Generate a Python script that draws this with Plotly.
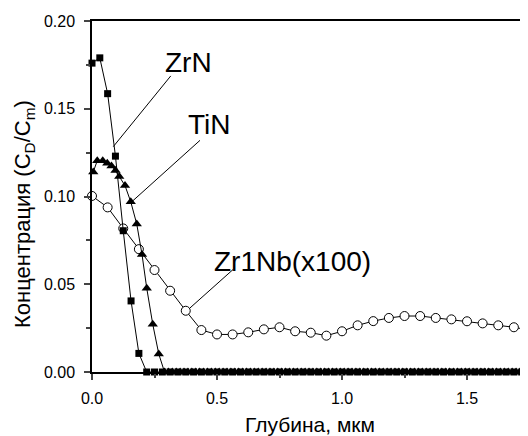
import numpy as np
import plotly.graph_objects as go

# ---- data ----
zrn_x = [0.0, 0.03125, 0.0625, 0.09375, 0.125, 0.15625, 0.1875] + [0.21875 + k / 32 for k in range(52)]
zrn_y = [0.176, 0.179, 0.1586, 0.123, 0.0805, 0.0405, 0.0106] + [0.0] * 52

tin_x = [0.005, 0.021, 0.043, 0.061, 0.078, 0.094, 0.109, 0.132, 0.155, 0.179, 0.200, 0.219, 0.243, 0.267] + [0.29 + k / 64 for k in range(96)]
tin_y = [0.114, 0.1204, 0.1204, 0.119, 0.1174, 0.1148, 0.1114, 0.1062, 0.097, 0.0843, 0.067, 0.0477, 0.0272, 0.0103] + [0.0] * 96

zrnb_x = [i * 0.0625 for i in range(29)]
zrnb_y = [0.1003, 0.0938, 0.0818, 0.0700, 0.0581, 0.0463, 0.0349, 0.0239, 0.0214, 0.0214,
          0.0226, 0.0243, 0.0255, 0.0232, 0.0224, 0.0207, 0.0232, 0.0266, 0.0290, 0.0308,
          0.0319, 0.0319, 0.0308, 0.0300, 0.0289, 0.0277, 0.0266, 0.0255, 0.0239]

x_ticks = [0.0, 0.5, 1.0, 1.5]
y_ticks = [0.00, 0.05, 0.10, 0.15, 0.20]

# label text, label centre, leader line end on curve
labels = ["ZrN", "TiN", "Zr1Nb(x100)"]
label_x = [0.385, 0.47, 0.802]
label_y = [0.1766, 0.1413, 0.063]
lead_x0 = [0.315, 0.432, 0.565]
lead_y0 = [0.1687, 0.132, 0.0585]
lead_x1 = [0.085, 0.159, 0.392]
lead_y1 = [0.1284, 0.0970, 0.0365]

FONT = "Arial, Liberation Sans, sans-serif"

fig = go.Figure()
fig.add_trace(go.Scatter(x=zrnb_x, y=zrnb_y, mode="lines+markers", cliponaxis=False,
                         line=dict(color="black", width=1),
                         marker=dict(symbol="circle", size=9, color="white",
                                     line=dict(color="black", width=1))))
fig.add_trace(go.Scatter(x=zrn_x, y=zrn_y, mode="lines+markers", cliponaxis=False,
                         line=dict(color="black", width=1),
                         marker=dict(symbol="square", size=7, color="black")))
fig.add_trace(go.Scatter(x=tin_x, y=tin_y, mode="lines+markers", cliponaxis=False,
                         line=dict(color="black", width=1),
                         marker=dict(symbol="triangle-up", size=9, color="black")))

for i in range(3):
    fig.add_shape(type="line", xref="x", yref="y",
                  x0=lead_x0[i], y0=lead_y0[i], x1=lead_x1[i], y1=lead_y1[i],
                  line=dict(color="black", width=1))
    fig.add_annotation(x=label_x[i], y=label_y[i], xref="x", yref="y", text=labels[i],
                       showarrow=False, font=dict(family=FONT, size=28, color="black"))

# y-axis title (placed as rotated annotation to match the original's offset)
fig.add_annotation(x=-0.156, y=0.45, xref="paper", yref="paper",
                   text="Концентрация (C<sub>D</sub>/C<sub>m</sub>)", textangle=-90,
                   showarrow=False, xanchor="center", yanchor="middle",
                   font=dict(family=FONT, size=22, color="black"))

fig.update_layout(
    width=520, height=428,
    margin=dict(l=84, r=0, t=13, b=64),
    paper_bgcolor="white", plot_bgcolor="white",
    showlegend=False,
    font=dict(family=FONT, color="black"),
)
fig.update_xaxes(range=[0, 1.744], tickvals=x_ticks, ticktext=[f"{v:.1f}" for v in x_ticks],
                 ticks="outside", ticklen=6, tickwidth=1.5, showgrid=False, zeroline=False,
                 showline=True, linecolor="black", linewidth=1.5, mirror=True,
                 ticklabelstandoff=5,
                 minor=dict(ticks="outside", ticklen=4, tickwidth=1.5, dtick=0.25, tick0=0.25, showgrid=False),
                 tickfont=dict(size=16), title=dict(text="Глубина, мкм", font=dict(size=21), standoff=12))
fig.update_yaxes(range=[0, 0.2], tickvals=y_ticks, ticktext=[f"{v:.2f}" for v in y_ticks],
                 ticks="outside", ticklen=6, tickwidth=1.5, showgrid=False, zeroline=False,
                 showline=True, linecolor="black", linewidth=1.5,
                 ticklabelstandoff=6,
                 minor=dict(ticks="outside", ticklen=4, tickwidth=1.5, dtick=0.025, tick0=0.025, showgrid=False),
                 tickfont=dict(size=16))

fig.write_html("out.html")
